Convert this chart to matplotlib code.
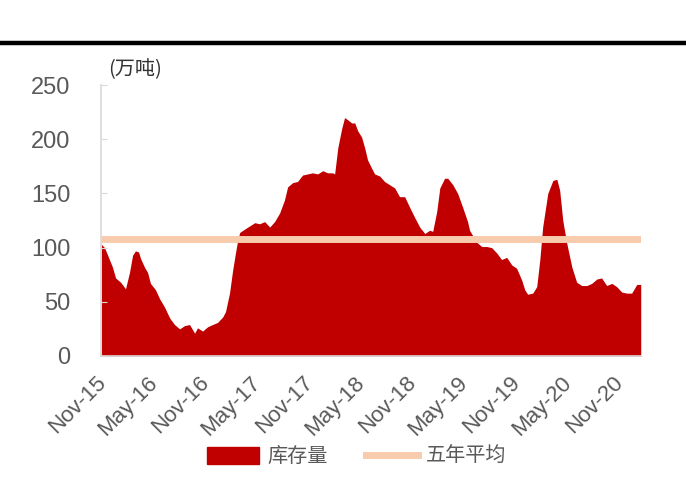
import numpy as np
import pandas as pd
import matplotlib
matplotlib.use("Agg")
import matplotlib.pyplot as plt
import matplotlib.dates as mdates
from matplotlib.patches import Patch
from matplotlib.lines import Line2D

plt.rcParams['font.family'] = ['Liberation Sans', 'Noto Sans CJK SC', 'DejaVu Sans']

# 库存量 (万吨), weekly readings
dates = [
    "2015-10-28", "2015-11-08", "2015-11-19", "2015-12-06", "2015-12-17",
    "2016-01-04", "2016-01-21", "2016-02-04", "2016-02-15", "2016-02-25",
    "2016-03-07", "2016-03-14", "2016-03-28", "2016-04-08", "2016-04-18",
    "2016-05-06", "2016-05-20", "2016-06-07", "2016-06-25", "2016-07-12",
    "2016-07-30", "2016-08-16", "2016-09-03", "2016-09-21", "2016-10-01",
    "2016-10-19", "2016-11-06", "2016-11-23", "2016-12-11", "2016-12-29",
    "2017-01-08", "2017-01-22", "2017-02-02", "2017-02-12", "2017-02-20",
    "2017-02-27", "2017-03-16", "2017-04-03", "2017-04-21", "2017-05-08",
    "2017-05-26", "2017-06-13", "2017-06-30", "2017-07-18", "2017-08-04",
    "2017-08-15", "2017-09-02", "2017-09-19", "2017-10-07", "2017-10-25",
    "2017-11-11", "2017-11-29", "2017-12-17", "2018-01-03", "2018-01-21",
    "2018-01-28", "2018-02-08", "2018-02-22", "2018-03-04", "2018-03-15",
    "2018-03-29", "2018-04-09", "2018-04-19", "2018-05-03", "2018-05-14",
    "2018-05-24", "2018-06-08", "2018-06-18", "2018-07-06", "2018-07-23",
    "2018-08-10", "2018-08-28", "2018-09-14", "2018-10-02", "2018-10-20",
    "2018-11-06", "2018-11-24", "2018-12-12", "2018-12-29", "2019-01-09",
    "2019-01-23", "2019-02-03", "2019-02-20", "2019-03-03", "2019-03-21",
    "2019-04-07", "2019-04-25", "2019-05-12", "2019-05-19", "2019-06-13",
    "2019-07-01", "2019-07-19", "2019-08-05", "2019-08-23", "2019-09-09",
    "2019-09-27", "2019-10-15", "2019-11-01", "2019-11-19", "2019-11-30",
    "2019-12-10", "2019-12-28", "2020-01-11", "2020-01-22", "2020-02-01",
    "2020-02-19", "2020-03-08", "2020-03-22", "2020-04-01", "2020-04-12",
    "2020-04-26", "2020-05-14", "2020-05-31", "2020-06-18", "2020-07-06",
    "2020-07-23", "2020-08-10", "2020-08-27", "2020-09-14", "2020-10-02",
    "2020-10-19", "2020-11-06", "2020-11-24", "2020-12-11", "2020-12-29",
    "2021-01-12",
]
stock = [
    103, 100, 93, 82, 72,
    68, 62, 77, 93, 97,
    96, 90, 82, 77, 67,
    61, 53, 45, 35, 29,
    25, 28, 29, 21, 26,
    23, 27, 29, 31, 36,
    41, 58, 79, 95, 107,
    114, 117, 120, 123, 122,
    124, 119, 124, 132, 144,
    156, 160, 161, 167, 168,
    169, 168, 171, 169, 169,
    168, 192, 210, 220, 218,
    215, 215, 208, 202, 192,
    181, 173, 168, 166, 161,
    158, 155, 147, 147, 137,
    128, 119, 113, 116, 115,
    133, 155, 164, 164, 158,
    150, 137, 124, 116, 105,
    101, 101, 100, 95, 89,
    91, 84, 81, 70, 61,
    57, 58, 64, 89, 119,
    150, 162, 163, 153, 125,
    104, 82, 68, 65, 65,
    67, 71, 72, 65, 67,
    64, 59, 58, 58, 66,
    66,
]
five_year_avg = 108

tick_dates = ["2015-11-01", "2016-05-01", "2016-11-01", "2017-05-01",
              "2017-11-01", "2018-05-01", "2018-11-01", "2019-05-01",
              "2019-11-01", "2020-05-01", "2020-11-01"]

x = pd.to_datetime(dates)

fig = plt.figure(figsize=(6.86, 4.86), dpi=100)
ax = fig.add_axes([0.147, 0.2675, 0.787, 0.5575])

red = "#C00000"
peach = "#F8CBAD"
grey = "#595959"

ax.fill_between(x, stock, 0, color=red, linewidth=0)
ax.plot([pd.Timestamp("2015-10-27"), pd.Timestamp("2021-01-12")],
        [five_year_avg, five_year_avg], color=peach, linewidth=5,
        solid_capstyle="butt")

ax.set_xlim(pd.Timestamp("2015-10-26"), pd.Timestamp("2021-01-12"))
ax.set_ylim(0, 250)
ax.set_yticks(np.arange(0, 251, 50))

ax.set_xticks(pd.to_datetime(tick_dates))
ax.xaxis.set_major_formatter(mdates.DateFormatter("%b-%y"))
plt.setp(ax.get_xticklabels(), rotation=45, ha="right", va="center",
         rotation_mode="anchor")

for s in ["top", "right"]:
    ax.spines[s].set_visible(False)
for s in ["left", "bottom"]:
    ax.spines[s].set_color("#D9D9D9")
    ax.spines[s].set_linewidth(1.2)

ax.tick_params(axis="y", direction="in", length=4, color="#D9D9D9",
               labelsize=17, labelcolor=grey, pad=22)
ax.tick_params(axis="x", length=0, labelsize=16, labelcolor=grey, pad=17)

fig.text(0.158, 0.856, "(万吨)", fontsize=14.5, color="#333333",
         family=["Noto Sans CJK SC", "DejaVu Sans"], ha="left", va="center")

# heavy rule under the title
fig.add_artist(Line2D([0.003, 1.0], [0.9105, 0.9105], color="black",
                      linewidth=3.2, transform=fig.transFigure))

handles = [Patch(facecolor=red, edgecolor=red),
           Line2D([0], [0], color=peach, linewidth=5)]
fig.legend(handles, ["库存量", "五年平均"], loc="center",
           bbox_to_anchor=(0.52, 0.06), ncol=2, frameon=False,
           prop={"family": ["Noto Sans CJK SC", "DejaVu Sans"], "size": 14.5},
           labelcolor=grey, handlelength=2.6, handleheight=0.9,
           columnspacing=1.9, handletextpad=0.4)

fig.savefig("out.png", dpi=100)
